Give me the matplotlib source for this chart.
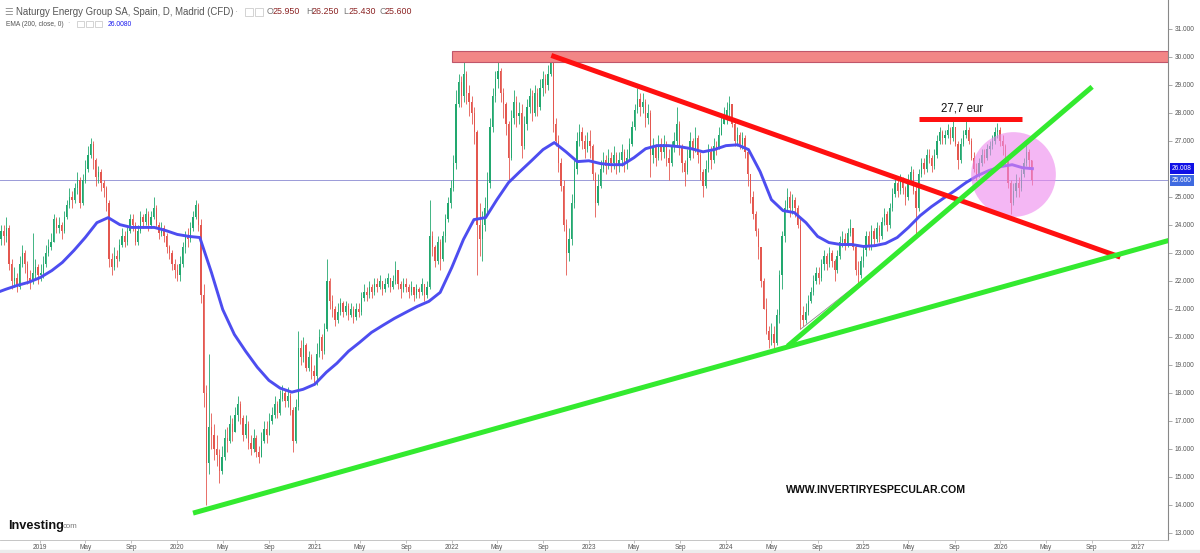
import matplotlib
matplotlib.use("Agg")
import matplotlib.pyplot as plt
import matplotlib.dates as mdates
import matplotlib.patches as patches
from matplotlib.ticker import FixedLocator, FuncFormatter
import numpy as np
import pandas as pd

plt.rcParams['font.family'] = ['Liberation Sans', 'DejaVu Sans']

# weekly candles, weeks start Monday 2018-09-17
first_open = 23.5
close_2018 = [23.8, 23.6, 23.9, 22.6, 22.0, 22.1, 21.8, 22.6, 23.0, 22.6, 22.1, 22.0, 22.3, 22.5, 22.2, 22.3]
high_2018 = [24.0, 24.0, 24.3, 24.0, 22.8, 22.5, 22.3, 22.9, 23.3, 23.1, 22.7, 22.4, 23.7, 22.8, 22.6, 22.6]
low_2018 = [23.3, 23.3, 23.4, 22.4, 21.7, 21.8, 21.6, 21.7, 22.5, 22.3, 21.9, 21.7, 21.9, 22.1, 21.9, 22.0]

close_2019 = [22.6, 23.0, 23.2, 23.4, 24.2, 23.9, 24.0, 23.8, 24.3, 24.7, 25.0, 24.9, 25.3,
              25.6, 24.8, 25.6, 26.0, 26.5, 26.9, 26.3, 25.7, 25.9, 25.5, 25.3, 24.8, 22.8,
              22.5, 22.9, 22.8, 23.3, 23.6, 23.4, 23.8, 24.2, 24.0, 23.4, 23.8, 24.3, 24.1,
              24.4, 24.0, 24.3, 24.6, 24.0, 23.7, 23.9, 23.6, 23.2, 23.0, 22.6, 22.4, 22.2]
high_2019 = [22.9, 23.3, 23.5, 23.7, 24.4, 24.3, 24.3, 24.1, 24.5, 24.9, 25.3, 25.2, 25.5,
             25.9, 25.7, 25.8, 26.3, 26.8, 27.1, 27.0, 26.4, 26.1, 26.0, 25.6, 25.4, 24.9,
             23.0, 23.2, 23.1, 23.5, 23.9, 23.8, 24.0, 24.4, 24.4, 24.1, 24.0, 24.5, 24.4,
             24.6, 24.5, 24.5, 25.0, 24.7, 24.1, 24.1, 24.0, 23.7, 23.3, 23.1, 22.8, 22.6]
low_2019 = [22.1, 22.5, 22.9, 23.1, 23.4, 23.7, 23.7, 23.5, 23.7, 24.2, 24.6, 24.6, 24.8,
            25.1, 24.6, 24.7, 25.5, 25.9, 26.4, 26.0, 25.4, 25.5, 25.2, 25.0, 24.5, 22.5,
            22.2, 22.4, 22.5, 22.7, 23.2, 23.2, 23.3, 23.7, 23.8, 23.3, 23.3, 23.7, 23.9,
            24.0, 23.8, 23.9, 24.2, 23.9, 23.5, 23.6, 23.4, 23.0, 22.8, 22.4, 22.1, 22.0]

close_2020 = [22.6, 23.2, 23.6, 23.5, 23.9, 24.3, 24.7, 24.0, 21.5, 18.0, 15.5, 16.8, 16.5,
              16.0, 15.8, 15.2, 15.7, 16.4, 16.3, 16.9, 16.6, 17.2, 17.6, 17.1, 16.5, 16.9,
              16.2, 16.0, 16.4, 15.9, 15.7, 16.3, 16.7, 16.5, 17.0, 17.2, 17.6, 17.3, 17.8,
              18.0, 17.7, 17.9, 17.4, 16.3, 17.5, 19.6, 19.3, 19.7, 18.9, 19.3, 18.8, 18.6]
high_2020 = [22.9, 23.4, 23.8, 23.9, 24.1, 24.5, 24.9, 24.8, 24.2, 21.9, 18.3, 19.4, 17.3,
             16.9, 16.5, 16.0, 16.1, 16.7, 16.8, 17.2, 17.1, 17.5, 17.9, 17.7, 17.2, 17.2,
             17.0, 16.5, 16.7, 16.5, 16.1, 16.6, 17.0, 17.0, 17.3, 17.5, 17.9, 17.7, 18.1,
             18.3, 18.1, 18.2, 18.0, 17.5, 17.8, 20.2, 19.9, 20.0, 19.8, 19.5, 19.4, 19.0]
low_2020 = [22.0, 22.5, 23.0, 23.2, 23.4, 23.8, 24.2, 23.8, 21.2, 17.5, 14.0, 15.1, 16.0,
            15.6, 15.4, 14.8, 15.1, 15.6, 15.9, 16.2, 16.3, 16.6, 17.0, 16.9, 16.3, 16.4,
            16.0, 15.8, 15.9, 15.7, 15.5, 15.7, 16.2, 16.2, 16.5, 16.9, 17.1, 17.1, 17.2,
            17.7, 17.5, 17.5, 17.2, 15.9, 16.2, 17.4, 19.0, 19.1, 18.8, 18.8, 18.5, 18.3]

close_2021 = [19.4, 20.0, 19.5, 20.3, 22.0, 21.3, 21.0, 20.6, 20.9, 21.2, 20.9, 21.1, 20.8,
              21.0, 20.7, 21.0, 20.9, 21.4, 21.6, 21.5, 21.8, 21.6, 21.9, 21.8, 22.0, 21.7,
              21.9, 22.1, 21.8, 22.0, 22.4, 21.9, 21.7, 21.9, 21.8, 21.6, 21.8, 21.5, 21.7,
              21.6, 21.9, 21.5, 21.8, 23.6, 23.2, 22.7, 23.4, 22.8, 23.6, 24.2, 24.8, 25.3]
high_2021 = [19.8, 20.3, 20.1, 20.5, 22.8, 22.1, 21.5, 21.1, 21.2, 21.4, 21.3, 21.3, 21.2,
             21.2, 21.1, 21.2, 21.2, 21.6, 21.9, 21.8, 22.0, 21.9, 22.1, 22.1, 22.2, 22.0,
             22.1, 22.3, 22.1, 22.2, 22.7, 22.4, 22.0, 22.1, 22.1, 21.9, 22.0, 21.8, 21.9,
             21.8, 22.1, 21.9, 22.0, 24.9, 23.8, 23.3, 23.6, 23.5, 23.8, 24.4, 25.0, 25.6]
low_2021 = [18.3, 19.3, 19.2, 19.4, 20.2, 21.0, 20.7, 20.4, 20.5, 20.8, 20.7, 20.8, 20.6,
            20.7, 20.5, 20.6, 20.7, 20.8, 21.3, 21.3, 21.4, 21.4, 21.5, 21.6, 21.7, 21.5,
            21.6, 21.8, 21.6, 21.7, 21.9, 21.7, 21.4, 21.6, 21.6, 21.4, 21.5, 21.3, 21.4,
            21.4, 21.5, 21.3, 21.4, 21.7, 22.9, 22.5, 22.6, 22.4, 22.7, 23.4, 24.1, 24.6]

close_2022 = [26.2, 28.3, 29.1, 28.6, 29.4, 28.7, 28.4, 28.0, 27.3, 24.0, 23.5, 24.0, 24.6,
              25.5, 27.5, 28.6, 29.2, 29.5, 28.7, 28.3, 27.6, 26.4, 27.8, 28.4, 27.9, 28.0,
              26.8, 27.6, 28.2, 28.6, 28.0, 28.7, 28.2, 28.9, 29.2, 29.0, 29.4, 29.8, 27.6,
              27.0, 26.2, 25.4, 24.0, 23.0, 23.5, 24.8, 26.0, 27.0, 27.3, 27.0, 26.7, 27.0]
high_2022 = [26.5, 28.8, 29.4, 29.3, 29.9, 29.5, 29.0, 28.6, 28.2, 27.4, 24.8, 24.5, 25.0,
             25.9, 27.8, 28.9, 29.5, 29.9, 29.6, 28.9, 28.4, 27.7, 28.1, 28.8, 28.6, 28.4,
             28.3, 27.9, 28.5, 28.9, 28.8, 29.0, 28.9, 29.2, 29.5, 29.4, 29.7, 30.1, 29.8,
             27.8, 27.2, 26.4, 25.6, 24.2, 23.9, 25.1, 26.3, 27.3, 27.6, 27.5, 27.2, 27.3]
low_2022 = [25.2, 26.0, 28.2, 28.2, 28.4, 28.3, 27.9, 27.6, 26.9, 22.2, 22.9, 22.7, 23.8,
            24.4, 25.3, 27.3, 28.4, 28.9, 28.4, 27.8, 27.2, 25.6, 26.3, 27.6, 27.5, 27.6,
            26.4, 26.7, 27.4, 28.0, 27.7, 27.9, 27.9, 28.1, 28.6, 28.7, 28.8, 29.3, 27.3,
            26.8, 25.9, 25.2, 23.8, 22.2, 22.7, 23.3, 24.6, 25.8, 26.8, 26.7, 26.4, 26.6]

close_2023 = [26.8, 25.8, 24.8, 25.4, 26.0, 26.3, 26.1, 26.4, 26.2, 26.5, 26.1, 26.3, 26.6,
              26.2, 26.4, 26.9, 27.5, 28.1, 28.5, 28.2, 28.4, 27.8, 28.0, 26.5, 26.8, 26.4,
              26.9, 26.6, 26.9, 26.4, 26.2, 26.8, 27.0, 27.6, 26.8, 26.2, 25.9, 26.4, 27.0,
              26.7, 27.1, 26.5, 25.9, 25.4, 26.0, 26.6, 26.3, 26.8, 26.7, 27.2, 27.6, 27.9]
high_2023 = [27.4, 26.9, 25.9, 25.8, 26.3, 26.6, 26.5, 26.7, 26.6, 26.8, 26.6, 26.6, 26.9,
             26.7, 26.7, 27.1, 27.7, 28.3, 28.9, 28.7, 28.7, 28.5, 28.3, 28.1, 27.1, 26.9,
             27.2, 27.1, 27.2, 27.0, 26.7, 27.0, 27.3, 28.2, 27.7, 26.9, 26.3, 26.7, 27.3,
             27.1, 27.5, 27.2, 26.6, 26.0, 26.3, 26.9, 26.8, 27.1, 27.0, 27.5, 27.9, 28.2]
low_2023 = [26.4, 25.6, 24.3, 24.7, 25.3, 25.9, 25.8, 26.0, 25.9, 26.0, 25.8, 25.9, 26.1,
            25.9, 26.0, 26.3, 26.8, 27.4, 28.0, 27.9, 28.0, 27.5, 27.6, 25.7, 26.2, 26.1,
            26.3, 26.3, 26.4, 26.1, 25.6, 26.1, 26.6, 26.8, 26.5, 25.9, 25.4, 25.8, 26.3,
            26.4, 26.6, 26.2, 25.6, 25.0, 25.3, 25.9, 26.0, 26.2, 26.5, 26.9, 27.3, 27.6]

close_2024 = [28.1, 28.3, 27.6, 27.0, 27.2, 26.9, 27.1, 26.6, 25.8, 25.0, 24.4, 23.8, 23.2,
              22.0, 21.0, 20.2, 19.9, 20.1, 19.8, 20.8, 22.2, 23.6, 24.6, 25.0, 24.6, 24.9,
              24.6, 24.0, 20.8, 20.6, 20.9, 21.3, 21.6, 22.0, 22.3, 22.1, 22.6, 22.9, 22.6,
              23.0, 22.7, 22.4, 22.9, 23.4, 23.5, 23.3, 23.7, 23.9, 23.2, 22.4, 22.2, 22.7]
high_2024 = [28.4, 28.6, 28.3, 27.7, 27.5, 27.3, 27.3, 27.2, 26.7, 25.8, 25.2, 24.5, 23.9,
             23.1, 22.1, 21.4, 20.4, 20.5, 20.4, 21.0, 22.4, 23.8, 24.9, 25.3, 25.2, 25.1,
             25.0, 24.7, 24.3, 21.1, 21.2, 21.5, 21.8, 22.2, 22.5, 22.5, 22.8, 23.1, 23.0,
             23.2, 23.1, 22.8, 23.1, 23.6, 23.8, 23.7, 23.9, 24.2, 23.9, 23.3, 22.7, 22.9]
low_2024 = [27.6, 27.9, 27.5, 26.8, 26.8, 26.7, 26.7, 26.4, 25.4, 24.8, 24.2, 23.6, 22.8,
            21.8, 21.0, 20.1, 19.6, 19.7, 19.6, 19.7, 20.5, 21.7, 23.4, 24.5, 24.3, 24.4,
            24.3, 23.9, 20.3, 20.4, 20.5, 20.8, 21.2, 21.5, 21.9, 21.9, 22.0, 22.4, 22.4,
            22.5, 22.5, 22.0, 22.3, 22.8, 23.2, 23.1, 23.2, 23.6, 23.1, 22.2, 21.8, 22.1]

close_2025 = [23.1, 23.6, 23.3, 23.8, 23.5, 23.9, 23.6, 24.1, 24.4, 24.0, 24.6, 25.1, 25.5,
              25.2, 25.6, 25.3, 25.0, 25.6, 25.9, 25.2, 24.6, 25.8, 26.2, 26.0, 26.5, 26.4,
              26.1, 26.5, 27.0, 27.3, 27.1, 27.2, 27.4, 27.1, 27.5, 26.9, 26.3, 26.9, 27.2,
              27.4, 27.0, 26.4, 26.0, 25.8, 26.2, 26.5, 26.4, 26.7, 26.8, 27.0, 27.3, 27.4]
high_2025 = [23.3, 23.8, 23.8, 24.0, 23.9, 24.1, 24.0, 24.3, 24.6, 24.5, 24.8, 25.3, 25.7,
             25.6, 25.8, 25.7, 25.4, 25.8, 26.1, 26.0, 25.4, 26.0, 26.4, 26.4, 26.7, 26.7,
             26.5, 26.7, 27.2, 27.5, 27.4, 27.4, 27.6, 27.5, 27.75, 27.5, 27.0, 27.1, 27.4,
             27.7, 27.5, 27.1, 26.6, 26.2, 26.4, 26.7, 26.7, 26.9, 27.0, 27.2, 27.5, 27.65]
low_2025 = [22.5, 22.9, 23.1, 23.1, 23.3, 23.4, 23.4, 23.5, 24.0, 23.8, 23.9, 24.5, 25.0,
            25.0, 25.1, 25.1, 24.7, 24.9, 25.5, 25.1, 23.6, 24.5, 25.7, 25.8, 25.9, 26.2,
            25.9, 26.0, 26.4, 26.9, 26.9, 26.9, 27.1, 26.9, 27.0, 26.8, 26.0, 26.2, 26.8,
            27.1, 26.9, 26.3, 25.9, 25.6, 25.7, 26.1, 26.2, 26.3, 26.5, 26.7, 26.9, 27.1]

close_2026 = [27.0, 26.8, 26.3, 25.5, 24.8, 25.2, 25.5, 25.3, 25.8, 26.2, 26.6, 26.3, 25.6]
high_2026 = [27.5, 27.2, 26.9, 26.4, 25.6, 25.5, 25.8, 25.7, 26.0, 26.4, 26.9, 26.7, 26.25]
low_2026 = [26.8, 26.5, 26.1, 25.3, 24.4, 24.7, 25.0, 25.0, 25.2, 25.7, 26.1, 26.0, 25.43]

ema_monthly = [21.70, 21.84, 21.95,
               22.12, 22.37, 22.66, 23.09, 23.55, 24.08, 24.26, 24.01, 23.91, 23.91, 23.91, 23.80,
               23.66, 23.59, 23.55, 22.30, 20.98, 20.09, 19.49, 18.92, 18.45, 18.17, 18.03, 18.13,
               18.31, 18.74, 19.06, 19.49, 19.81, 20.16, 20.41, 20.66, 20.88, 21.09, 21.27, 21.59,
               22.48, 23.48, 24.19, 24.26, 24.90, 25.51, 25.90, 26.29, 26.69, 26.94, 26.61, 26.26,
               26.29, 26.19, 26.15, 26.15, 26.40, 26.72, 26.83, 26.83, 26.79, 26.72, 26.61, 26.69,
               26.83, 26.86, 26.69, 25.90, 24.90, 24.51, 24.44, 24.08, 23.59, 23.37, 23.30, 23.30,
               23.23, 23.26, 23.34, 23.55, 23.91, 24.33, 24.65, 24.94, 25.22, 25.51, 25.76, 25.94,
               26.08, 26.15, 26.04]
ema_first = ("2018-09-17", 21.63)
ema_last = ("2026-03-27", 26.008)

# hand drawn studies on the chart, (date, price)
resistance_zone = ("2022-01-01", 29.8, 30.2)
red_trend = [("2022-09-23", 30.05), ("2026-11-16", 22.85)]
green_long = [("2020-02-12", 13.71), ("2027-06-01", 23.70)]
green_short = [("2024-06-13", 19.67), ("2026-09-02", 28.93)]
thin_trend = [("2024-07-17", 20.27), ("2024-12-23", 21.95)]
top_line = [("2025-05-28", 27.79), ("2026-02-26", 27.79)]
top_label = ("2025-09-20", 27.93, "27,7 eur")
circle_at = ("2026-02-02", 25.83)
last_close = 25.6

x_range = ("2018-09-16", "2027-03-23")
y_range = (12.75, 32.03)

UP = '#22a86f'
DOWN = '#e4574f'
W, H = 1200, 553


def fx(px):
    return px / W


def fy(py):
    return 1 - py / H


def build_candles():
    closes = np.array(close_2018 + close_2019 + close_2020 + close_2021 + close_2022
                      + close_2023 + close_2024 + close_2025 + close_2026)
    highs = np.array(high_2018 + high_2019 + high_2020 + high_2021 + high_2022
                     + high_2023 + high_2024 + high_2025 + high_2026)
    lows = np.array(low_2018 + low_2019 + low_2020 + low_2021 + low_2022
                    + low_2023 + low_2024 + low_2025 + low_2026)
    opens = np.concatenate([[first_open], closes[:-1]])
    highs = np.maximum(highs, np.maximum(opens, closes))
    lows = np.minimum(lows, np.minimum(opens, closes))
    # candle centred on the Wednesday of each week
    weeks = pd.date_range("2018-09-19", periods=len(closes), freq="7D")
    return mdates.date2num(weeks), opens, highs, lows, closes


def d(s):
    return mdates.date2num(pd.Timestamp(s))


def draw_line(ax, pts, color, lw, z=6):
    xs = [d(p[0]) for p in pts]
    ys = [p[1] for p in pts]
    ax.plot(xs, ys, color=color, lw=lw, solid_capstyle='butt', zorder=z)


def header(fig):
    grey = '#555555'
    fig.text(fx(4), fy(12), '\u2630', fontsize=7, color='#999999', va='center')
    fig.text(fx(16), fy(12), 'Naturgy Energy Group SA, Spain, D, Madrid (CFD)',
             fontsize=6.9, color=grey, va='center')
    fig.text(fx(235), fy(12), '\u00b7', fontsize=7, color='#aaaaaa', va='center')
    for px in (245, 255):
        fig.patches.append(patches.Rectangle((fx(px), fy(16)), 8 / W, 8 / H,
                                             transform=fig.transFigure, fill=False,
                                             ec='#cccccc', lw=0.6))
    ohlc = [('O', '25.950', 267), ('H', '26.250', 306), ('L', '25.430', 343), ('C', '25.600', 379)]
    for letter, val, px in ohlc:
        fig.text(fx(px), fy(12), letter, fontsize=6.4, color='#777777', va='center')
        fig.text(fx(px + 6), fy(12), val, fontsize=6.4, color='#8b2323', va='center')

    fig.text(fx(6), fy(24), 'EMA (200, close, 0)', fontsize=4.8, color=grey, va='center')
    fig.text(fx(67), fy(24), '\u00b7', fontsize=5, color='#aaaaaa', va='center')
    for px in (77, 86, 95):
        fig.patches.append(patches.Rectangle((fx(px), fy(27)), 7 / W, 6 / H,
                                             transform=fig.transFigure, fill=False,
                                             ec='#cccccc', lw=0.6))
    fig.text(fx(108), fy(24), '26.0080', fontsize=4.9, color='#1a1aee', va='center')


def main():
    fig = plt.figure(figsize=(12, 5.53), dpi=100)
    fig.patches.append(patches.Rectangle((0, 0), 1, 3 / H, transform=fig.transFigure,
                                         color='#ececec', zorder=-5))
    ax = fig.add_axes([0, fy(540), fx(1168), 540 / H])

    x, o, hi, lo, c = build_candles()
    up = c >= o
    body_lo = np.minimum(o, c)
    body_h = np.maximum(np.abs(c - o), 0.05)

    # current price line
    ax.axhline(last_close, color='#9a9ad8', lw=0.7, zorder=1.5)

    for mask, col in ((up, UP), (~up, DOWN)):
        ax.vlines(x[mask], lo[mask], hi[mask], colors=col, lw=0.6, zorder=2)
        ax.bar(x[mask], body_h[mask], bottom=body_lo[mask], width=3.4,
               color=col, linewidth=0, zorder=2)

    # EMA 200
    ema_dates = pd.date_range("2018-10-01", periods=len(ema_monthly), freq="MS")
    ex = [d(ema_first[0])] + list(mdates.date2num(ema_dates)) + [d(ema_last[0])]
    ey = [ema_first[1]] + ema_monthly + [ema_last[1]]
    ax.plot(ex, ey, color='#4d4df0', lw=2.1, zorder=3, solid_joinstyle='round')

    # resistance zone
    x0, x1 = d(x_range[0]), d(x_range[1])
    zx = d(resistance_zone[0])
    ax.add_patch(patches.Rectangle((zx, resistance_zone[1]), x1 - zx,
                                   resistance_zone[2] - resistance_zone[1],
                                   facecolor='#f28686', edgecolor='#c0566a', lw=0.8, zorder=4))

    # highlight circle
    ax.plot(d(circle_at[0]), circle_at[1], 'o', ms=61, mfc='#ee88ee', mec='none',
            alpha=0.6, zorder=4)

    draw_line(ax, thin_trend, '#8a8a8a', 0.6, z=5)
    draw_line(ax, red_trend, '#ff1010', 3.6)
    draw_line(ax, top_line, '#ff1010', 3.6)
    draw_line(ax, green_long, '#33ea2f', 3.6)
    draw_line(ax, green_short, '#33ea2f', 3.6)

    ax.text(d(top_label[0]), top_label[1], top_label[2], fontsize=8.3,
            ha='center', va='bottom', color='#111111', zorder=7)

    ax.set_xlim(x0, x1)
    ax.set_ylim(*y_range)

    # axes styling
    for side in ('top', 'left'):
        ax.spines[side].set_visible(False)
    ax.spines['right'].set_color('#888888')
    ax.spines['bottom'].set_color('#bbbbbb')
    ax.spines['right'].set_linewidth(0.8)
    ax.spines['bottom'].set_linewidth(0.6)

    # the 26.000 label sits under the EMA price tag, so it is left out
    yticks = [v for v in range(13, 32) if v != 26]
    ax.yaxis.tick_right()
    ax.yaxis.set_major_locator(FixedLocator(yticks))
    ax.yaxis.set_major_formatter(FuncFormatter(lambda v, p: f"{v:.3f}"))
    ax.tick_params(axis='y', labelsize=4.7, colors='#888888', labelcolor='#555555',
                   length=3, width=0.5, pad=2)

    ticks = pd.date_range("2019-01-01", "2027-01-01", freq="4MS")
    ax.xaxis.set_major_locator(FixedLocator(mdates.date2num(ticks)))
    ax.xaxis.set_major_formatter(FuncFormatter(
        lambda v, p: str(mdates.num2date(v).year) if mdates.num2date(v).month == 1
        else mdates.num2date(v).strftime('%b')))
    ax.tick_params(axis='x', labelsize=4.7, colors='#aaaaaa', labelcolor='#555555',
                   length=2, width=0.5, pad=0.8)

    # price tags on the axis
    ytr = ax.get_yaxis_transform()
    ax.text(1.0035, ema_last[1], f"{ema_last[1]:.3f}", transform=ytr, fontsize=4.7,
            color='white', va='center', ha='left', zorder=10, clip_on=False,
            bbox=dict(boxstyle='square,pad=0.3', fc='#1010e6', ec='none'))
    ax.text(1.0035, last_close, f"{last_close:.3f}", transform=ytr, fontsize=4.7,
            color='white', va='center', ha='left', zorder=10, clip_on=False,
            bbox=dict(boxstyle='square,pad=0.3', fc='#3f6ae0', ec='none'))

    header(fig)

    # logos / watermark
    fig.text(fx(8), fy(526), 'Investing', fontsize=9.2, fontweight='bold',
             color='#111111', va='center')
    fig.text(fx(63), fy(527), 'com', fontsize=5.6, color='#777777', va='center')
    fig.text(fx(876), fy(490), 'WWW.INVERTIRYESPECULAR.COM', fontsize=7.6,
             fontweight='bold', color='#111111', ha='center', va='center')

    fig.savefig('out.png', dpi=100)
    plt.close(fig)


if __name__ == "__main__":
    main()
